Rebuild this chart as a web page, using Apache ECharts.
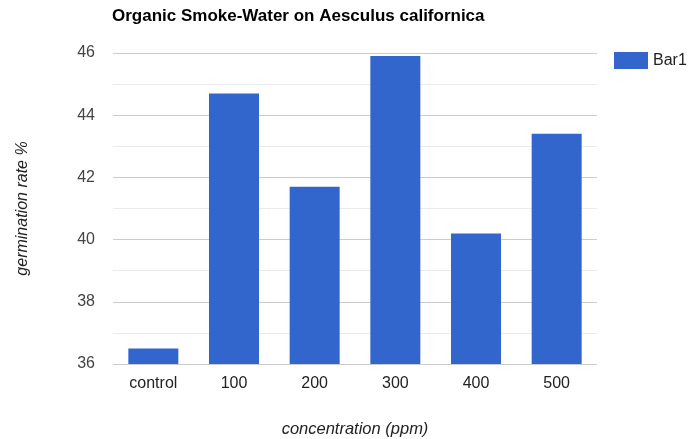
<!DOCTYPE html>
<html><head><meta charset="utf-8">
<script src="https://cdn.jsdelivr.net/npm/echarts@6/dist/echarts.min.js"></script>
<style>html,body{margin:0;padding:0;background:#fff}#c{width:690px;height:439px}</style>
</head><body><div id="c"></div>
<script>
const categories = ['control', '100', '200', '300', '400', '500'];
const bar1 = [36.5, 44.7, 41.7, 45.9, 40.2, 43.4];
const seriesName = 'Bar1';
const titleText = 'Organic Smoke-Water on Aesculus californica';
const xName = 'concentration (ppm)';
const yName = 'germination rate %';

const F = 'Liberation Sans, Arial, sans-serif';
const chart = echarts.init(document.getElementById('c'));
chart.setOption({
  animation: false,
  title: {
    text: titleText, left: 107, top: 3,
    textStyle: {fontFamily: F, fontSize: 17, fontWeight: 'bold', color: '#000'}
  },
  legend: {
    data: [seriesName], left: 609, top: 47, itemWidth: 34, itemHeight: 17, itemGap: 6,
    icon: 'rect',
    textStyle: {fontFamily: F, fontSize: 16, color: '#222'}
  },
  grid: {left: 113, right: 93, top: 53, bottom: 75, containLabel: false, outerBoundsMode: 'none'},
  xAxis: {
    type: 'category', data: categories,
    name: xName, nameLocation: 'middle', nameGap: 57,
    nameTextStyle: {fontFamily: F, fontSize: 16.5, fontStyle: 'italic', color: '#222'},
    axisLine: {show: false}, axisTick: {show: false},
    axisLabel: {fontFamily: F, fontSize: 16, color: '#222', margin: 12}
  },
  yAxis: {
    type: 'value', min: 36, max: 46, interval: 2,
    name: yName, nameLocation: 'middle', nameGap: 82, nameRotate: 90,
    nameTextStyle: {fontFamily: F, fontSize: 16, fontStyle: 'italic', color: '#222'},
    axisLine: {show: false}, axisTick: {show: false},
    axisLabel: {fontFamily: F, fontSize: 16, color: '#444', margin: 18},
    splitLine: {lineStyle: {color: '#cccccc', width: 1}},
    minorTick: {show: false, splitNumber: 2},
    minorSplitLine: {show: true, lineStyle: {color: '#ebebeb', width: 1}}
  },
  series: [{
    name: seriesName, type: 'bar', data: bar1, barWidth: 50,
    itemStyle: {color: '#3366cc'}
  }]
});
</script></body></html>
